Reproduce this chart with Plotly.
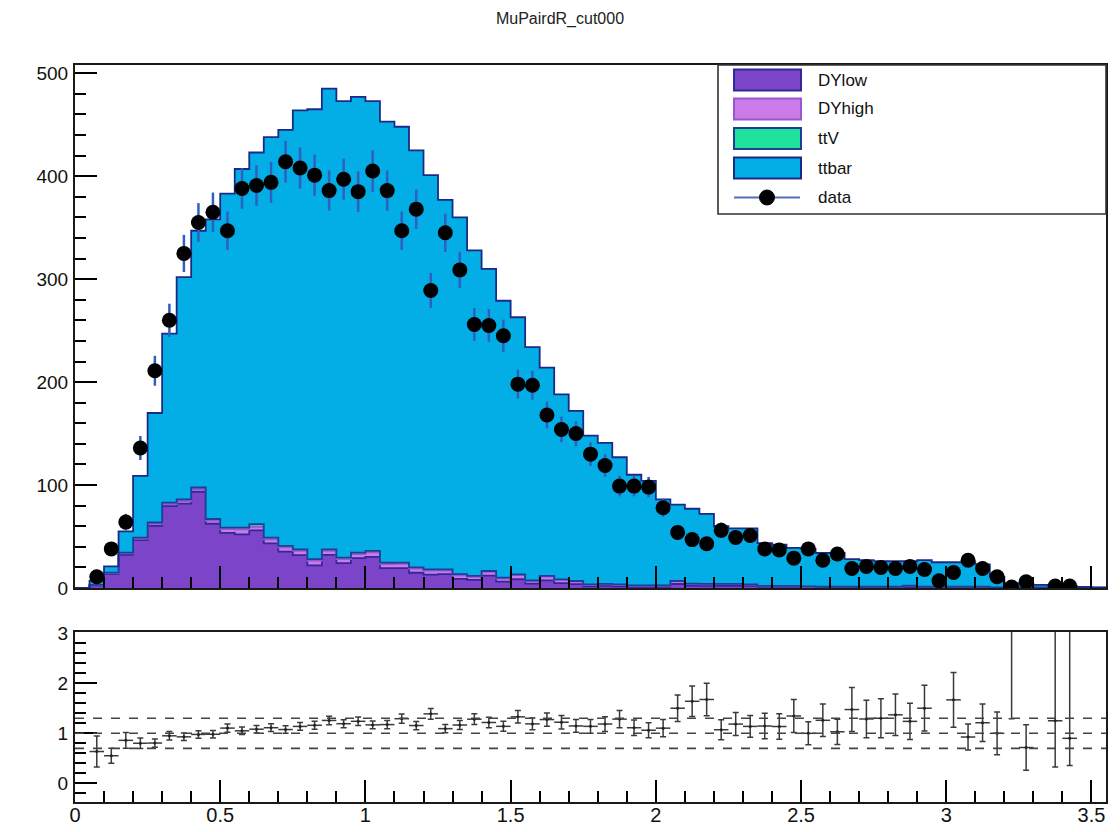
import math
import plotly.graph_objects as go

# ---- histogram content (71 bins of width 0.05 on [0, 3.55]) ----
bin_width = 0.05
n_bins = 71

dylow = [0, 2.5, 13.7, 32.1, 46.5, 60.4, 79.6, 82.0, 93.5, 62.4,
         53.6, 52.0, 56.0, 43.3, 35.4, 32.0, 22.0, 32.1, 24.1, 29.0,
         30.2, 19.3, 19.4, 14.8, 12.9, 13.5, 8.9, 7.8, 12.1, 6.2,
         8.5, 4.3, 7.5, 4.8, 3.7, 1.6, 2.0, 1.5, 1.2, 1.2,
         1.1, 3.9, 2.3, 2.1, 2.2, 2.2, 2.0, 0.9, 0.9, 0.9,
         0.6, 0.5, 0.5, 0.5, 0.5, 0.5, 0.5, 0.5, 0.5, 0.5,
         0.5, 0.5, 0.5, 0.2, 0.2, 0.2, 0.2, 0.2, 0.2, 0.2, 0.1]

dyhigh = [0, 0.3, 0.8, 1.5, 1.5, 2.0, 2.0, 2.5, 2.5, 3.0,
          3.5, 5.0, 3.5, 4.0, 4.0, 4.0, 4.5, 4.0, 4.0, 4.0,
          4.5, 4.0, 4.0, 4.0, 4.0, 3.5, 3.5, 3.0, 3.5, 3.0,
          4.0, 2.5, 3.5, 3.0, 2.5, 1.5, 1.5, 1.5, 1.0, 1.0,
          1.0, 2.5, 1.5, 1.5, 1.5, 1.5, 1.2, 0.8, 0.8, 0.8,
          0.6, 0.5, 0.5, 0.5, 0.5, 0.5, 0.5, 1.5, 0.5, 0.5,
          0.5, 0.5, 0.5, 0.2, 0.2, 0.2, 0.2, 0.2, 0.2, 0.2, 0.1]

ttv = [0, 0.2, 0.5, 0.8, 1.0, 1.2, 1.4, 1.5, 1.6, 1.6,
       1.6, 1.7, 2.5, 1.7, 1.6, 1.6, 1.5, 1.5, 1.4, 1.4,
       1.3, 1.3, 1.2, 1.2, 1.1, 1.0, 1.0, 0.9, 0.9, 0.8,
       0.8, 0.7, 0.7, 0.6, 0.6, 0.5, 0.5, 0.5, 0.4, 0.4,
       0.4, 0.4, 0.4, 0.4, 0.3, 0.3, 0.3, 0.3, 0.3, 0.3,
       0.3, 0.2, 0.2, 0.2, 0.2, 0.2, 0.2, 0.2, 0.2, 0.2,
       0.2, 0.2, 0.2, 0.1, 0.1, 0.1, 0.1, 0.1, 0.1, 0.1, 0.1]

ttbar = [0, 4.0, 6.0, 20.6, 60.0, 106.4, 164.0, 216.0, 249.4, 291.0,
         324.3, 348.3, 361.0, 389.0, 404.0, 426.4, 437.0, 447.4, 443.5, 442.6,
         437.0, 428.4, 423.4, 405.0, 383.0, 359.0, 346.6, 316.3, 293.5, 269.0,
         249.7, 226.5, 202.3, 179.6, 165.2, 144.4, 137.0, 123.5, 107.4, 101.4,
         83.5, 74.2, 72.8, 68.0, 56.0, 54.0, 54.5, 41.5, 40.0, 37.0,
         36.5, 32.8, 32.8, 26.8, 25.8, 24.8, 24.8, 23.8, 25.8, 23.8,
         23.8, 23.8, 21.8, 10.5, 4.1, 3.8, 2.5, 2.0, 1.3, 0.5, 0.2]

data = [None, 11, 38, 64, 136, 211, 260, 325, 355, 365,
        347, 388, 391, 394, 414, 408, 401, 386, 397, 385,
        405, 386, 347, 368, 289, 345, 309, 256, 255, 245,
        198, 197, 168, 154, 150, 130, 119, 99, 99, 98,
        78, 54, 47, 43, 56, 49, 51, 38, 37, 29,
        38, 27, 33, 19, 21, 20, 19, 21, 18, 7,
        15, 27, 19, 11, 1, 6, None, 2, 2, None, None]

# low-count bins of the ratio: (upper, lower) uncertainty, and bins left out
ratio_err_lowstat = {64: (3.0, 3.31), 67: (2.5, 0.92), 68: (2.5, 0.54)}
ratio_skip = {59}

x_ticks = [0, 0.5, 1, 1.5, 2, 2.5, 3, 3.5]
x_tick_text = ["0", "0.5", "1", "1.5", "2", "2.5", "3", "3.5"]
y_ticks = [0, 100, 200, 300, 400, 500]
ratio_ticks = [0, 1, 2, 3]
ratio_lines = [0.7, 1.0, 1.3]

# ---- derived quantities ----
edges = [round(i * bin_width, 4) for i in range(n_bins + 1)]
centers = [round((i + 0.5) * bin_width, 4) for i in range(n_bins)]
mc_total = [a + b + c + d for a, b, c, d in zip(dylow, dyhigh, ttv, ttbar)]

data_x, data_y, data_err = [], [], []
ratio_x, ratio_y, ratio_up, ratio_dn = [], [], [], []
for i, (c, d, m) in enumerate(zip(centers, data, mc_total)):
    if d is None or d <= 0:
        continue
    data_x.append(c)
    data_y.append(d)
    data_err.append(math.sqrt(d))
    if m > 0 and i not in ratio_skip:
        r = m / d
        ratio_x.append(c)
        ratio_y.append(r)
        if i in ratio_err_lowstat:
            up, dn = ratio_err_lowstat[i]
        else:
            up = dn = r * math.sqrt(1.0 / d + 1.0 / m)
        ratio_up.append(up)
        ratio_dn.append(dn)

FONT = "Liberation Sans, Arial, Helvetica, sans-serif"
W, H = 1120, 832
L, R, T, B = 75, 14, 65, 30
main_bottom_px = 588
ratio_top_px = 632
plot_h = H - T - B
plot_w = W - L - R


def py(px_y):
    return (H - B - px_y) / plot_h


def px(px_x):
    return (px_x - L) / plot_w


fig = go.Figure()

# stacked simulation, drawn as step outlines
stack = [
    ("DYlow", dylow, "#7b44c9", "#33279a"),
    ("DYhigh", dyhigh, "#cc7ae8", "#9558d2"),
    ("ttV", ttv, "#1fe39c", "#1d3f95"),
    ("ttbar", ttbar, "#03aee6", "#1b2a86"),
]
for name, vals, fill, line in stack:
    fig.add_trace(go.Scatter(
        x=edges, y=list(vals) + [vals[-1]],
        name=name, stackgroup="mc", line_shape="hv",
        mode="lines", fillcolor=fill,
        line=dict(color=line, width=1.8),
        xaxis="x", yaxis="y", showlegend=False, hoverinfo="skip",
    ))

# data points with Poisson errors
fig.add_trace(go.Scatter(
    x=data_x, y=data_y, mode="markers", name="data",
    marker=dict(color="black", size=15),
    error_y=dict(type="data", array=data_err, color="#2f5fbf",
                 thickness=2.5, width=0),
    xaxis="x", yaxis="y", showlegend=False,
))

# ratio panel
fig.add_trace(go.Scatter(
    x=ratio_x, y=ratio_y, mode="markers",
    marker=dict(color="#222222", size=3),
    error_y=dict(type="data", array=ratio_up, arrayminus=ratio_dn,
                 symmetric=False, color="#3a3a3a", thickness=1.5, width=3),
    error_x=dict(type="constant", value=bin_width / 2, color="#3a3a3a",
                 thickness=1.5, width=0),
    xaxis="x2", yaxis="y2", showlegend=False,
))

TICK_COLOR = "black"
axis_common = dict(
    showline=True, mirror=True, linecolor="#1a1a1a", linewidth=2,
    ticks="inside", tickcolor=TICK_COLOR, tickwidth=2, ticklen=22,
    showgrid=False, zeroline=False, layer="above traces", automargin=False,
    tickfont=dict(family=FONT, size=19, color="#111111"),
)
minor_common = dict(ticks="inside", ticklen=11, tickcolor=TICK_COLOR,
                    tickwidth=2, showgrid=False)

fig.update_layout(
    width=W, height=H,
    margin=dict(l=L, r=R, t=T, b=B, autoexpand=False),
    paper_bgcolor="white", plot_bgcolor="white",
    title=dict(text="MuPairdR_cut000", x=0.5, xanchor="center",
               y=1 - 18 / H, yanchor="middle",
               font=dict(family=FONT, size=16, color="#222222")),
    xaxis=dict(domain=[0, 1], range=[0, 3.55], anchor="y",
               tickvals=x_ticks, showticklabels=False,
               minor=dict(dtick=0.1, **minor_common),
               **axis_common),
    yaxis=dict(domain=[py(main_bottom_px), 1], range=[0, 508], anchor="x",
               tickvals=y_ticks, ticklabelstandoff=1,
               minor=dict(dtick=20, **minor_common),
               **axis_common),
    xaxis2=dict(domain=[0, 1], range=[0, 3.55], anchor="y2", matches="x",
                tickvals=x_ticks, ticktext=x_tick_text, ticklabelstandoff=-6,
                minor=dict(dtick=0.1, **minor_common),
                **{**axis_common, "tickfont": dict(family=FONT, size=20, color="#111111")}),
    yaxis2=dict(domain=[0, py(ratio_top_px)], range=[-0.37, 3.02], anchor="x2",
                tickvals=ratio_ticks, ticklabelstandoff=1,
                minor=dict(dtick=0.2, **minor_common),
                **axis_common),
)

shapes = []
for lv in ratio_lines:
    shapes.append(dict(type="line", xref="x2 domain", yref="y2",
                       x0=0, x1=1, y0=lv, y1=lv,
                       line=dict(color="#444444", width=1.6, dash="dash"),
                       layer="above"))

# legend box
shapes.append(dict(type="rect", xref="paper", yref="paper",
                   x0=px(718), x1=px(1106), y0=py(214), y1=py(65),
                   line=dict(color="#333333", width=1.6),
                   fillcolor="white", layer="above"))
legend_rows = [("DYlow", 80), ("DYhigh", 109), ("ttV", 138.5), ("ttbar", 168)]
annotations = []
for (name, vals, fill, line), (label, cy) in zip(stack, legend_rows):
    shapes.append(dict(type="rect", xref="paper", yref="paper",
                       x0=px(734), x1=px(801), y0=py(cy + 10.5), y1=py(cy - 10.5),
                       fillcolor=fill, line=dict(color=line, width=2),
                       layer="above"))
    annotations.append(dict(text=label, xref="paper", yref="paper",
                            x=px(816), y=py(cy), xanchor="left", yanchor="middle",
                            showarrow=False,
                            font=dict(family=FONT, size=17, color="#111111")))
data_cy = 197.5
shapes.append(dict(type="line", xref="paper", yref="paper",
                   x0=px(734), x1=px(800), y0=py(data_cy), y1=py(data_cy),
                   line=dict(color="#5a6bb5", width=2), layer="above"))
shapes.append(dict(type="circle", xref="paper", yref="paper",
                   x0=px(767 - 7.5), x1=px(767 + 7.5),
                   y0=py(data_cy + 7.5), y1=py(data_cy - 7.5),
                   fillcolor="black", line=dict(color="black", width=1),
                   layer="above"))
annotations.append(dict(text="data", xref="paper", yref="paper",
                        x=px(816), y=py(data_cy), xanchor="left", yanchor="middle",
                        showarrow=False,
                        font=dict(family=FONT, size=17, color="#111111")))

fig.update_layout(shapes=shapes, annotations=annotations)

fig.write_html("out.html")
